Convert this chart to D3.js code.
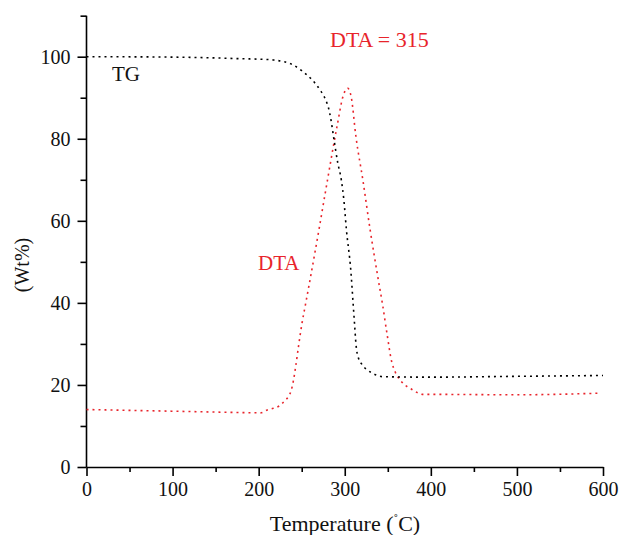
<!DOCTYPE html>
<html>
<head>
<meta charset="utf-8">
<script src="https://cdn.jsdelivr.net/npm/d3@7"></script>
<style>
  body { margin: 0; background: #fff; }
  svg { display: block; font-family: "Liberation Serif", "DejaVu Serif", serif; }
  .axis path, .axis line { stroke: #000; stroke-width: 1.6; }
  .axis text { fill: #111; }
</style>
</head>
<body>
<svg></svg>
<script>
// TG curve (weight %) vs temperature
let tgTemps = [0, 100, 150, 180, 200, 217, 229, 240, 250, 261, 271, 278, 281, 284, 287, 292, 296, 299, 302, 307, 310, 311.5, 313, 316, 320, 325, 331, 337, 345, 400, 500, 600];
let tgValues = [100, 99.9, 99.7, 99.5, 99.4, 99.2, 98.8, 98, 96.6, 94.6, 92, 89.4, 87.6, 84.6, 80.5, 74, 70, 65, 57.7, 48, 39, 34.5, 30, 26.5, 25, 23.8, 23, 22.4, 22, 21.9, 22.1, 22.3];

// DTA curve
let dtaTemps = [0, 100, 171, 202, 210, 217, 224, 231, 235, 238, 240.5, 243, 246, 250, 255, 260, 270, 280, 291, 298.5, 303.5, 307.5, 313, 321, 329.5, 339, 344, 349, 354.5, 358.5, 366, 378, 391, 400, 500, 598];
let dtaValues = [14, 13.6, 13.3, 13.2, 13.9, 14.3, 14.9, 16.3, 17.3, 18.8, 21.2, 24.5, 29, 34.6, 40.3, 46, 57.8, 70, 83, 90.7, 92.3, 90.2, 80.5, 70, 57.8, 45.6, 39.5, 32.6, 25.7, 23.2, 20.8, 18.9, 17.7, 17.7, 17.6, 18];

let xTicks = [0, 100, 200, 300, 400, 500, 600];
let xMinorTicks = [50, 150, 250, 350, 450, 550];
let yTicks = [0, 20, 40, 60, 80, 100];
let yMinorTicks = [10, 30, 50, 70, 90, 110];

let width = 621;
let height = 535;
let serif = "Liberation Serif, serif";

let svg = d3.select("svg").attr("width", width).attr("height", height);

let xScale = d3.scaleLinear().domain([0, 600]).range([86.5, 603]);
let yScale = d3.scaleLinear().domain([0, 100]).range([467, 56.7]);

// minor ticks first so the major axis sits on top
svg.append("g")
  .attr("class", "axis")
  .attr("transform", `translate(0, ${yScale(0)})`)
  .call(d3.axisBottom(xScale).tickValues(xMinorTicks).tickSize(5).tickFormat(""))
  .select(".domain").remove();

svg.append("g")
  .attr("class", "axis")
  .attr("transform", `translate(${xScale(0)}, 0)`)
  .call(d3.axisLeft(yScale).tickValues(yMinorTicks).tickSize(6).tickFormat(""))
  .select(".domain").remove();

svg.append("g")
  .attr("class", "axis")
  .attr("transform", `translate(0, ${yScale(0)})`)
  .call(d3.axisBottom(xScale).tickValues(xTicks).tickSize(9).tickSizeOuter(0).tickPadding(6))
  .attr("font-family", serif)
  .attr("font-size", 20);

let yAxis = svg.append("g")
  .attr("class", "axis")
  .attr("transform", `translate(${xScale(0)}, 0)`)
  .call(d3.axisLeft(yScale).tickValues(yTicks).tickSize(9).tickSizeOuter(0).tickPadding(7))
  .attr("font-family", serif)
  .attr("font-size", 20);
// extend y axis up to 110
yAxis.select(".domain").attr("d", `M0,${yScale(0)}V${yScale(110)}`);

let line = d3.line()
  .x((d) => xScale(d[0]))
  .y((d) => yScale(d[1]))
  .curve(d3.curveMonotoneX);

svg.append("path")
  .datum(dtaTemps.map((t, i) => [t, dtaValues[i]]))
  .attr("d", line)
  .attr("fill", "none")
  .attr("stroke", "#e8242b")
  .attr("stroke-width", 1.6)
  .attr("stroke-dasharray", "2,4");

svg.append("path")
  .datum(tgTemps.map((t, i) => [t, tgValues[i]]))
  .attr("d", line)
  .attr("fill", "none")
  .attr("stroke", "#000")
  .attr("stroke-width", 1.6)
  .attr("stroke-dasharray", "2,4");

// labels
svg.append("text")
  .attr("x", 112).attr("y", 81)
  .style("font-size", "21px").style("fill", "#111")
  .text("TG");

svg.append("text")
  .attr("x", 330).attr("y", 47)
  .style("font-size", "22px").style("fill", "#e8242b")
  .text("DTA = 315");

svg.append("text")
  .attr("x", 258).attr("y", 270)
  .style("font-size", "21px").style("fill", "#e8242b")
  .text("DTA");

let xLabel = svg.append("text")
  .attr("x", 345).attr("y", 531)
  .style("text-anchor", "middle")
  .style("font-size", "22px").style("fill", "#111");
xLabel.append("tspan").text("Temperature (");
xLabel.append("tspan").attr("dy", -6).style("font-size", "14px").text("\u02da");
xLabel.append("tspan").attr("dy", 6).text("C)");

svg.append("text")
  .attr("transform", "rotate(-90)")
  .attr("x", -265).attr("y", 29)
  .style("text-anchor", "middle")
  .style("font-size", "20px").style("fill", "#111")
  .text("(Wt%)");
</script>
</body>
</html>
